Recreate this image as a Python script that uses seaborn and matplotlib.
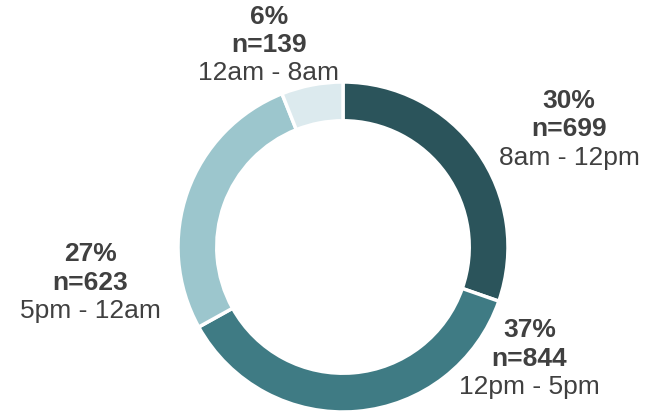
import seaborn as sns
import matplotlib.pyplot as plt

# data, clockwise from 12 o'clock
periods = ["8am - 12pm", "12pm - 5pm", "5pm - 12am", "12am - 8am"]
counts = [699, 844, 623, 139]
percents = [30, 37, 27, 6]

colors = ["#2b545b", "#3f7b84", "#9cc6cd", "#dceaee"]
# label block centres, in units of the outer radius
label_xy = [(1.37, 0.72), (1.13, -0.67), (-1.53, -0.21), (-0.45, 1.23)]

sns.set_theme(style="white")
plt.rcParams["font.family"] = ["Liberation Sans", "DejaVu Sans"]

fig = plt.figure(figsize=(6.45, 4.14), dpi=100)
ax = fig.add_axes([0, 0, 1, 1])

ax.pie(counts, colors=colors, startangle=90, counterclock=False,
       radius=1.0, wedgeprops=dict(width=0.235, edgecolor="white", linewidth=2.5))

fs = 19
for (x, y), p, n, lab in zip(label_xy, percents, counts, periods):
    ax.text(x, y + 0.172, f"{p}%", ha="center", va="center",
            fontsize=fs, fontweight="bold", color="#404040")
    ax.text(x, y, f"n={n}", ha="center", va="center",
            fontsize=fs, fontweight="bold", color="#404040")
    ax.text(x, y - 0.172, lab, ha="center", va="center",
            fontsize=fs, color="#404040")

ax.set_xlim(-343 / 165, (645 - 343) / 165)
ax.set_ylim(-166 / 165, 248 / 165)
ax.set_aspect("equal")
ax.axis("off")

plt.savefig("out.png", dpi=100)
